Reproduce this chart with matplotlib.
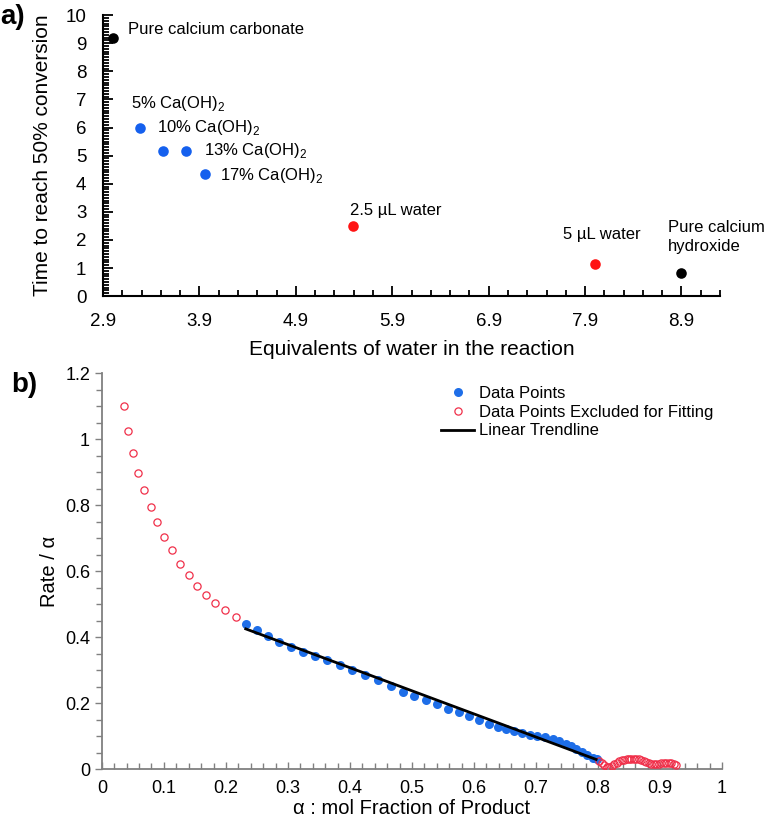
import numpy as np
import matplotlib
matplotlib.use("Agg")
import matplotlib.pyplot as plt
from matplotlib.ticker import MultipleLocator, FixedLocator

plt.rcParams["font.family"] = ["Liberation Sans", "DejaVu Sans"]
plt.rcParams["mathtext.fontset"] = "custom"
plt.rcParams["mathtext.rm"] = "Liberation Sans"

# ==========================
# Panel a) data
# ==========================

a_x = [3.0, 3.28, 3.52, 3.76, 3.96, 5.49, 8.0, 8.9]
a_y = [9.2, 6.0, 5.17, 5.17, 4.33, 2.49, 1.14, 0.81]
a_kind = ["pure", "blend", "blend", "blend", "blend", "water", "water", "pure"]
a_labels = [
    "Pure calcium carbonate",
    "5% Ca(OH)$_2$",
    "10% Ca(OH)$_2$",
    "13% Ca(OH)$_2$",
    "17% Ca(OH)$_2$",
    "2.5 µL water",
    "5 µL water",
    "Pure calcium\nhydroxide",
]
a_ticks = [2.9, 3.9, 4.9, 5.9, 6.9, 7.9, 8.9]

# ==========================
# Panel b) data
# ==========================

fit_x = [0.232, 0.2505, 0.268, 0.286, 0.305, 0.324, 0.3435, 0.3635, 0.384,
         0.404, 0.4245, 0.445, 0.4655, 0.485, 0.504, 0.5226, 0.541, 0.5586,
         0.576, 0.592, 0.6086, 0.6235, 0.638, 0.6516, 0.6645, 0.677, 0.690,
         0.702, 0.7145, 0.727, 0.7376, 0.748, 0.757, 0.765, 0.775, 0.783,
         0.7915, 0.798]
fit_y = [0.441, 0.423, 0.403, 0.384, 0.369, 0.355, 0.342, 0.330, 0.316,
         0.300, 0.286, 0.269, 0.252, 0.235, 0.220, 0.208, 0.196, 0.183,
         0.172, 0.160, 0.1485, 0.137, 0.128, 0.120, 0.114, 0.109, 0.104,
         0.100, 0.096, 0.091, 0.085, 0.077, 0.069, 0.060, 0.051, 0.0415,
         0.034, 0.029]

excl_x = [0.0355, 0.0425, 0.050, 0.059, 0.068, 0.0785, 0.089, 0.1005, 0.113,
          0.126, 0.140, 0.153, 0.168, 0.183, 0.199, 0.2155,
          0.802, 0.806, 0.810, 0.814, 0.818, 0.822, 0.826, 0.830, 0.834,
          0.838, 0.842, 0.846, 0.850, 0.854, 0.858, 0.862, 0.866, 0.870,
          0.874, 0.878, 0.882, 0.886, 0.890, 0.894, 0.898, 0.902, 0.906,
          0.910, 0.914, 0.918, 0.922, 0.926]
excl_y = [1.100, 1.024, 0.958, 0.899, 0.845, 0.795, 0.748, 0.704, 0.663,
          0.623, 0.587, 0.555, 0.527, 0.504, 0.483, 0.4615,
          0.024, 0.017, 0.011, 0.007, 0.006, 0.009, 0.014, 0.019, 0.023,
          0.026, 0.028, 0.030, 0.031, 0.031, 0.031, 0.030, 0.029, 0.027,
          0.024, 0.021, 0.018, 0.016, 0.015, 0.015, 0.016, 0.017, 0.018,
          0.018, 0.018, 0.017, 0.014, 0.011]

trend_x = [0.232, 0.797]
trend_y = [0.425, 0.029]

# ==========================
# Figure
# ==========================

fig = plt.figure(figsize=(7.66, 8.18), dpi=100)

ax1 = fig.add_axes([0.1345, 0.638, 0.8055, 0.3435])
ax2 = fig.add_axes([0.133, 0.0599, 0.8096, 0.4837])

# ---- panel a
colors = {"pure": "black", "blend": "#1560ee", "water": "#ff1414"}
for x, y, k in zip(a_x, a_y, a_kind):
    ax1.scatter(x, y, s=58, color=colors[k], zorder=3, linewidths=0)

offsets = [(11, 6), (-6, 17), (-4.5, 16.5), (13, 0), (11, -1),
           (-2, 11.5), (-23, 21), (-10, 26)]
for x, y, lab, off in zip(a_x, a_y, a_labels, offsets):
    ax1.annotate(lab, (x, y), xytext=off, textcoords="offset points",
                 ha="left", va="center", fontsize=12, linespacing=1.3)

ax1.set_xlim(2.9, 9.3)
ax1.set_ylim(0, 10)
ax1.xaxis.set_major_locator(FixedLocator(a_ticks))
ax1.xaxis.set_minor_locator(FixedLocator(np.arange(2.9, 9.31, 0.2)))
ax1.yaxis.set_major_locator(MultipleLocator(1))
ax1.yaxis.set_minor_locator(MultipleLocator(0.1))
ax1.set_xticklabels([f"{t:.1f}" for t in a_ticks])

for s in ["top", "right"]:
    ax1.spines[s].set_visible(False)
for s in ["left", "bottom"]:
    ax1.spines[s].set_linewidth(1.5)

ax1.tick_params(which="both", direction="in", width=1.3, labelsize=13.5)
ax1.tick_params(which="major", length=7)
ax1.tick_params(which="minor", length=4)
ax1.tick_params(axis="x", pad=12)
ax1.tick_params(axis="y", pad=12)
ax1.set_xlabel("Equivalents of water in the reaction", fontsize=15, labelpad=7)
ax1.set_ylabel("Time to reach 50% conversion", fontsize=15, labelpad=10)

# ---- panel b
ax2.plot(fit_x, fit_y, "o", color="#1e6ee8", markersize=6.5,
         markeredgewidth=0, label="Data Points", zorder=3)
ax2.plot(excl_x, excl_y, "o", markerfacecolor="none", markeredgecolor="#f0304a",
         markersize=5.2, markeredgewidth=0.9,
         label="Data Points Excluded for Fitting", zorder=4)
ax2.plot(trend_x, trend_y, color="black", linewidth=2,
         label="Linear Trendline", zorder=5)

ax2.set_xlim(0, 1)
ax2.set_ylim(0, 1.2)
ax2.xaxis.set_major_locator(MultipleLocator(0.1))
ax2.xaxis.set_minor_locator(MultipleLocator(0.02))
ax2.yaxis.set_major_locator(MultipleLocator(0.2))
ax2.yaxis.set_minor_locator(MultipleLocator(0.05))
ax2.xaxis.set_major_formatter(plt.FuncFormatter(lambda v, p: f"{v:g}"))
ax2.yaxis.set_major_formatter(plt.FuncFormatter(lambda v, p: f"{v:g}"))

for s in ["top", "right"]:
    ax2.spines[s].set_visible(False)
for s in ["left", "bottom"]:
    ax2.spines[s].set_color("#808080")
    ax2.spines[s].set_linewidth(1.3)

ax2.tick_params(which="both", color="#808080", width=1, labelsize=13)
ax2.tick_params(axis="x", which="both", direction="in")
ax2.tick_params(axis="y", which="both", direction="out")
ax2.tick_params(which="major", length=5)
ax2.tick_params(which="minor", length=4)
ax2.tick_params(axis="x", pad=8)
ax2.set_xlabel("α : mol Fraction of Product", fontsize=14.5, labelpad=1)
ax2.set_ylabel("Rate / α", fontsize=14.5, labelpad=4)

fig.legend(loc="upper left", bbox_to_anchor=(441 / 766, 1 - 386 / 818),
           frameon=False, fontsize=12, borderpad=0, borderaxespad=0,
           handlelength=2.0, handletextpad=0.3, labelspacing=0.22)

fig.text(0.0, 0.979, "a)", fontsize=20, fontweight="bold", va="center")
fig.text(0.015, 0.529, "b)", fontsize=20, fontweight="bold", va="center")

fig.savefig("out.png", dpi=100)
